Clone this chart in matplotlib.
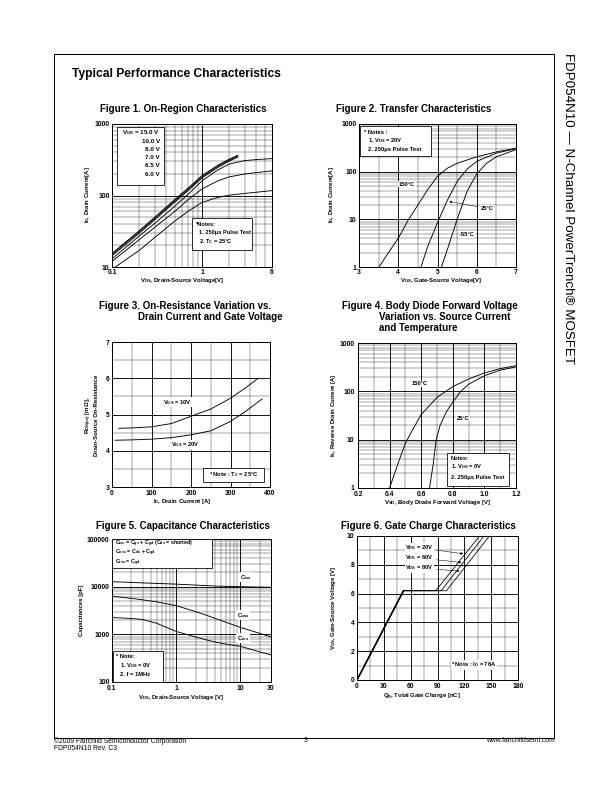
import matplotlib
matplotlib.use("Agg")
import matplotlib.pyplot as plt
from matplotlib.patches import Rectangle
from matplotlib.ticker import MultipleLocator, NullFormatter, FixedLocator, FixedFormatter

plt.rcParams['font.family'] = ['Liberation Sans', 'DejaVu Sans']
plt.rcParams['font.weight'] = 'bold'
plt.rcParams['mathtext.fontset'] = 'custom'
plt.rcParams['mathtext.rm'] = 'Liberation Sans:bold'
plt.rcParams['mathtext.bf'] = 'Liberation Sans:bold'
plt.rcParams['mathtext.default'] = 'bf'

# Figure 1 - on-region characteristics (VDS [V] vs ID [A])
vds_bundle = [0.1, 0.2, 0.3, 0.5, 0.7, 1.0, 1.5, 2.0, 2.5]
id_15v = [15.5, 32, 50, 88, 127, 190, 265, 322, 365]
id_10v = [15.0, 31, 48, 85, 122, 183, 256, 312, 355]
id_8v = [14.3, 29.5, 46, 81, 117, 176, 247, 302, 345]
vds_sat = [0.1, 0.2, 0.3, 0.5, 0.7, 1.0, 1.5, 2.0, 3.0, 4.0, 6.0]
id_7v = [13.0, 27, 41, 71, 104, 160, 228, 275, 308, 318, 328]
id_65v = [12.0, 24, 36, 60, 87, 124, 160, 182, 200, 209, 221]
id_6v = [9.3, 17, 26, 44, 60, 80, 94, 101, 107, 111, 117]
vgs_legend = ["15.0 V", "10.0 V", "8.0 V", "7.0 V", "6.5 V", "6.0 V"]

# Figure 2 - transfer characteristics
vgs_150 = [3.51, 3.75, 4.0, 4.25, 4.5, 4.75, 5.0, 5.25, 5.5, 6.0, 6.5, 7.0]
id_150 = [1, 2, 4, 9.5, 20, 42, 80, 118, 150, 205, 260, 310]
vgs_25 = [4.58, 4.75, 5.0, 5.25, 5.5, 5.75, 6.0, 6.5, 7.0]
id_25 = [1, 2.7, 8.5, 25, 62, 112, 165, 245, 305]
vgs_m55 = [5.1, 5.25, 5.5, 5.75, 6.0, 6.25, 6.5, 7.0]
id_m55 = [1, 2.3, 10, 38, 90, 150, 205, 290]

# Figure 3 - on-resistance vs drain current
id_r10 = [17, 50, 100, 150, 200, 250, 300, 340, 370]
rds_10 = [4.62, 4.63, 4.66, 4.75, 4.95, 5.15, 5.45, 5.75, 6.0]
id_r20 = [8, 50, 100, 150, 200, 250, 300, 340, 380]
rds_20 = [4.29, 4.30, 4.32, 4.36, 4.44, 4.55, 4.81, 5.10, 5.43]

# Figure 4 - body diode forward voltage
vsd_150 = [0.40, 0.45, 0.50, 0.55, 0.60, 0.70, 0.80, 0.90, 1.00, 1.10, 1.20]
is_150 = [1, 3, 8.5, 17, 33, 75, 125, 180, 240, 295, 340]
vsd_25 = [0.653, 0.675, 0.695, 0.72, 0.76, 0.80, 0.85, 0.90, 1.00, 1.10, 1.20]
is_25 = [1, 3, 10, 20, 38, 60, 100, 140, 210, 275, 320]

# Figure 5 - capacitance
vds_cap = [0.1, 0.2, 0.3, 0.5, 1, 2, 3, 5, 10, 20, 30]
ciss = [12700, 12300, 12000, 11700, 11300, 10800, 10500, 10200, 10000, 9800, 9700]
coss = [6300, 5700, 5300, 4800, 4000, 3000, 2500, 1950, 1400, 1050, 880]
crss = [2250, 2150, 2050, 1700, 1150, 880, 760, 650, 560, 430, 370]

# Figure 6 - gate charge
qg_20v = [0, 52, 88, 137]
qg_60v = [0, 52, 94, 142]
qg_80v = [0, 52, 100, 148]
vg_charge = [0, 6.2, 6.2, 10]

W, H = 612, 792
fig = plt.figure(figsize=(W / 72, H / 72), dpi=72)

TITLE = 9.8
LAB = 6.0
NOTE = 5.8


def pt(x, y):
    return x / W, 1 - y / H


def box(l, t, r, b):
    return [l / W, 1 - b / H, (r - l) / W, (b - t) / H]


def txt(x, y, s, size=LAB, **kw):
    kw.setdefault('va', 'center')
    fig.text(*pt(x, y), s, fontsize=size, zorder=7, **kw)


def note_box(l, t, r, b):
    fig.add_artist(Rectangle(pt(l, b), (r - l) / W, (b - t) / H, transform=fig.transFigure,
                             facecolor='white', edgecolor='black', lw=0.8, zorder=6))


def style(ax):
    ax.grid(True, which='major', color='black', lw=0.9)
    ax.grid(True, which='minor', color='black', lw=0.35)
    ax.tick_params(which='both', direction='in', length=0, labelsize=6.8, pad=2.5)
    for s in ax.spines.values():
        s.set_linewidth(1.0)
    ax.xaxis.set_minor_formatter(NullFormatter())
    ax.yaxis.set_minor_formatter(NullFormatter())


white = dict(facecolor='white', edgecolor='none', pad=0.6)

# page frame and headings
fig.add_artist(Rectangle(pt(54, 738), 500 / W, 684 / H, transform=fig.transFigure,
                         facecolor='none', edgecolor='black', lw=1.0))
txt(72, 74, "Typical Performance Characteristics", size=12, ha='left')
fig.text(*pt(568, 53), "FDP054N10 \u2014 N-Channel PowerTrench\u00ae MOSFET", fontsize=13.4,
         fontweight='normal', rotation=-90, ha='center', va='top')
txt(54, 741, "\u00a92009 Fairchild Semiconductor Corporation", size=6.8, ha='left', fontweight='normal')
txt(54, 748, "FDP054N10 Rev. C3", size=6.8, ha='left', fontweight='normal')
txt(306, 741, "3", size=6.8, ha='center', fontweight='normal')
txt(555, 741, "www.fairchildsemi.com", size=6.8, ha='right', fontweight='normal')

# ---- Figure 1
ax1 = fig.add_axes(box(112, 124, 272, 267))
ax1.set_xscale('log')
ax1.set_yscale('log')
for y in (id_15v, id_10v, id_8v):
    ax1.plot(vds_bundle, y, color='black', lw=0.9)
for y in (id_7v, id_65v, id_6v):
    ax1.plot(vds_sat, y, color='black', lw=0.9)
ax1.set_xlim(0.1, 6)
ax1.set_ylim(10, 1000)
ax1.xaxis.set_major_locator(FixedLocator([0.1, 1, 6]))
ax1.xaxis.set_major_formatter(FixedFormatter(["0.1", "1", "6"]))
ax1.yaxis.set_major_locator(FixedLocator([10, 100, 1000]))
ax1.yaxis.set_major_formatter(FixedFormatter(["10", "100", "1000"]))
style(ax1)
txt(183.5, 109, "Figure 1. On-Region Characteristics", size=TITLE, ha='center')
txt(182, 280, "V$_{DS}$, Drain-Source Voltage[V]", ha='center')
txt(88, 195, "I$_{D}$, Drain Current[A]", ha='center', rotation=90)
note_box(117, 127, 164, 185)
for i, lab in enumerate(vgs_legend):
    s = "V$_{GS}$ = " + lab if i == 0 else lab
    txt(160, 133 + i * 8.2, s, size=6.2, ha='right')
note_box(192, 218, 252, 250)
txt(196, 224, "*Notes:", size=5.6, ha='left')
txt(199, 233, "1. 250\u03bcs Pulse Test", size=5.6, ha='left')
txt(199, 242, "2. T$_{C}$ = 25\u00b0C", size=5.6, ha='left')

# ---- Figure 2
ax2 = fig.add_axes(box(359, 124, 516, 267))
ax2.set_yscale('log')
ax2.plot(vgs_150, id_150, color='black', lw=0.9)
ax2.plot(vgs_25, id_25, color='black', lw=0.9)
ax2.plot(vgs_m55, id_m55, color='black', lw=0.9)
ax2.set_xlim(3, 7)
ax2.set_ylim(1, 1000)
ax2.xaxis.set_major_locator(MultipleLocator(1))
ax2.xaxis.set_minor_locator(MultipleLocator(0.5))
ax2.yaxis.set_major_locator(FixedLocator([1, 10, 100, 1000]))
ax2.yaxis.set_major_formatter(FixedFormatter(["1", "10", "100", "1000"]))
style(ax2)
ax2.text(4.22, 55, "150\u00b0C", fontsize=NOTE, ha='center', va='center', bbox=white)
ax2.annotate("25\u00b0C", xy=(5.25, 24), xytext=(6.1, 17), fontsize=NOTE, ha='left', va='center',
             bbox=white, arrowprops=dict(arrowstyle='-|>', color='black', lw=0.5, mutation_scale=5))
ax2.text(5.75, 4.7, "-55\u00b0C", fontsize=NOTE, ha='center', va='center', bbox=white)
txt(414, 109, "Figure 2. Transfer Characteristics", size=TITLE, ha='center')
txt(441, 280, "V$_{GS}$, Gate-Source Voltage[V]", ha='center')
txt(332, 195, "I$_{D}$, Drain Current[A]", ha='center', rotation=90)
note_box(360, 126, 431, 156)
txt(364, 132, "* Notes :", size=NOTE, ha='left')
txt(368, 141, "1. V$_{DS}$ = 20V", size=NOTE, ha='left')
txt(368, 150, "2. 250\u03bcs Pulse Test", size=NOTE, ha='left')

# ---- Figure 3
ax3 = fig.add_axes(box(112, 342, 270, 487))
ax3.plot(id_r10, rds_10, color='black', lw=0.9)
ax3.plot(id_r20, rds_20, color='black', lw=0.9)
ax3.set_xlim(0, 400)
ax3.set_ylim(3, 7)
ax3.xaxis.set_major_locator(MultipleLocator(100))
ax3.xaxis.set_minor_locator(MultipleLocator(50))
ax3.yaxis.set_major_locator(MultipleLocator(1))
ax3.yaxis.set_minor_locator(MultipleLocator(0.5))
style(ax3)
ax3.text(165, 5.34, "V$_{GS}$ = 10V", fontsize=NOTE, ha='center', va='center', bbox=white)
ax3.text(185, 4.16, "V$_{GS}$ = 20V", fontsize=NOTE, ha='center', va='center', bbox=white)
txt(99, 306, "Figure 3. On-Resistance Variation vs.", size=TITLE, ha='left')
txt(138, 317, "Drain Current and Gate Voltage", size=TITLE, ha='left')
txt(182, 502, "I$_{D}$, Drain Current [A]", ha='center')
txt(89, 415, "R$_{DS(on)}$ [m\u03a9],", ha='center', rotation=90)
txt(97, 415, "Drain-Source On-Resistance", ha='center', rotation=90)
note_box(203, 468, 264, 482)
txt(233.5, 475, "* Note : T$_{C}$ = 25\u00b0C", size=NOTE, ha='center')

# ---- Figure 4
ax4 = fig.add_axes(box(358, 343, 516, 488))
ax4.set_yscale('log')
ax4.plot(vsd_150, is_150, color='black', lw=0.9)
ax4.plot(vsd_25, is_25, color='black', lw=0.9)
ax4.set_xlim(0.2, 1.2)
ax4.set_ylim(1, 1000)
ax4.xaxis.set_minor_locator(MultipleLocator(0.1))
ax4.xaxis.set_major_locator(FixedLocator([0.2, 0.4, 0.6, 0.8, 1.0, 1.2]))
ax4.xaxis.set_major_formatter(FixedFormatter(["0.2", "0.4", "0.6", "0.8", "1.0", "1.2"]))
ax4.yaxis.set_major_locator(FixedLocator([1, 10, 100, 1000]))
ax4.yaxis.set_major_formatter(FixedFormatter(["1", "10", "100", "1000"]))
style(ax4)
ax4.tick_params(axis='x', pad=3.5)
ax4.tick_params(axis='y', pad=3.5)
ax4.text(0.59, 142, "150\u00b0C", fontsize=NOTE, ha='center', va='center', bbox=white)
ax4.text(0.865, 28, "25\u00b0C", fontsize=NOTE, ha='center', va='center', bbox=white)
txt(342, 306, "Figure 4. Body Diode Forward Voltage", size=TITLE, ha='left')
txt(379, 317, "Variation vs. Source Current", size=TITLE, ha='left')
txt(379, 328, "and Temperature", size=TITLE, ha='left')
txt(437, 503, "V$_{SD}$, Body Diode Forward Voltage [V]", ha='center')
txt(333, 415, "I$_{S}$, Reverse Drain Current [A]", ha='center', rotation=90)
note_box(447, 453, 509, 486)
txt(451, 458, "Notes:", size=NOTE, ha='left')
txt(451, 467, "1. V$_{GS}$ = 0V", size=NOTE, ha='left')
txt(451, 477, "2. 250\u03bcs Pulse Test", size=NOTE, ha='left')

# ---- Figure 5
ax5 = fig.add_axes(box(112, 539, 271, 682))
ax5.set_xscale('log')
ax5.set_yscale('log')
ax5.plot(vds_cap, ciss, color='black', lw=0.9)
ax5.plot(vds_cap, coss, color='black', lw=0.9)
ax5.plot(vds_cap, crss, color='black', lw=0.9)
ax5.set_xlim(0.1, 30)
ax5.set_ylim(100, 100000)
ax5.xaxis.set_major_locator(FixedLocator([0.1, 1, 10, 30]))
ax5.xaxis.set_major_formatter(FixedFormatter(["0.1", "1", "10", "30"]))
ax5.yaxis.set_major_locator(FixedLocator([100, 1000, 10000, 100000]))
ax5.yaxis.set_major_formatter(FixedFormatter(["100", "1000", "10000", "100000"]))
style(ax5)
ax5.text(12.2, 15800, "C$_{iss}$", fontsize=NOTE, ha='center', va='center', bbox=white)
ax5.text(11, 2530, "C$_{oss}$", fontsize=NOTE, ha='center', va='center', bbox=white)
ax5.text(11, 835, "C$_{rss}$", fontsize=NOTE, ha='center', va='center', bbox=white)
txt(182.5, 526, "Figure 5. Capacitance Characteristics", size=TITLE, ha='center')
txt(181, 697, "V$_{DS}$, Drain-Source Voltage [V]", ha='center')
txt(81, 610, "Capacitances [pF]", ha='center', rotation=90)
note_box(112, 539, 212, 568)
txt(115, 543.5, "C$_{iss}$ = C$_{gs}$ + C$_{gd}$ (C$_{ds}$ = shorted)", size=5.2, ha='left')
txt(115, 553, "C$_{oss}$ = C$_{ds}$ + C$_{gd}$", size=5.2, ha='left')
txt(115, 562.5, "C$_{rss}$ = C$_{gd}$", size=5.2, ha='left')
note_box(113, 651, 163, 682)
txt(116, 657, "* Note:", size=NOTE, ha='left')
txt(120, 666, "1. V$_{GS}$ = 0V", size=NOTE, ha='left')
txt(120, 674, "2. f = 1MHz", size=NOTE, ha='left')

# ---- Figure 6
ax6 = fig.add_axes(box(357, 536, 518, 680))
ax6.plot(qg_20v, vg_charge, color='black', lw=0.8)
ax6.plot(qg_60v, vg_charge, color='black', lw=0.8)
ax6.plot(qg_80v, vg_charge, color='black', lw=0.8)
ax6.plot(qg_20v[:2], vg_charge[:2], color='black', lw=1.6)
ax6.set_xlim(0, 180)
ax6.set_ylim(0, 10)
ax6.xaxis.set_major_locator(MultipleLocator(30))
ax6.xaxis.set_minor_locator(MultipleLocator(15))
ax6.yaxis.set_major_locator(MultipleLocator(2))
ax6.yaxis.set_minor_locator(MultipleLocator(1))
style(ax6)
arrow = dict(arrowstyle='-|>', color='black', lw=0.5, mutation_scale=5)
ax6.annotate("V$_{DS}$ = 20V", xy=(121, 8.75), xytext=(70, 9.17), fontsize=NOTE, ha='center',
             va='center', bbox=white, arrowprops=arrow)
ax6.annotate("V$_{DS}$ = 60V", xy=(119, 8.15), xytext=(70, 8.47), fontsize=NOTE, ha='center',
             va='center', bbox=white, arrowprops=arrow)
ax6.annotate("V$_{DS}$ = 80V", xy=(117, 7.55), xytext=(70, 7.78), fontsize=NOTE, ha='center',
             va='center', bbox=white, arrowprops=arrow)
ax6.text(131, 1.05, "* Note : I$_{D}$ = 76A", fontsize=NOTE, ha='center', va='center', bbox=white)
txt(428, 526, "Figure 6. Gate Charge Characteristics", size=TITLE, ha='center')
txt(422, 697, "Q$_{g}$, Total Gate Charge [nC]", ha='center')
txt(333, 608, "V$_{GS}$, Gate-Source Voltage [V]", ha='center', rotation=90)

fig.savefig("out.png", dpi=72)
